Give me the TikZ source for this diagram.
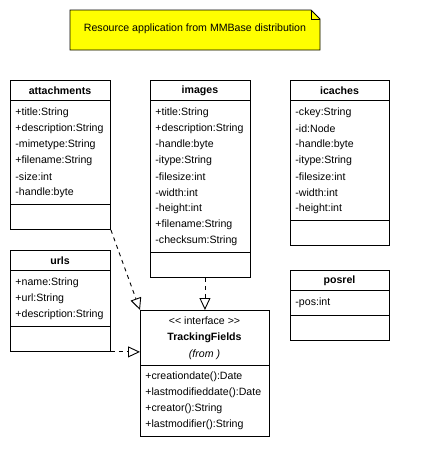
\documentclass[tikz,border=0pt]{standalone}
\usepackage{fontspec}
\setmainfont{Liberation Sans}
\usetikzlibrary{arrows.meta,calc}
\begin{document}
\begin{tikzpicture}[x=1pt,y=-1pt,
  line width=0.9pt,
  cls/.style={draw, anchor=north west, inner sep=0pt, fill=white},
  attr/.style={anchor=west, inner sep=0pt, font=\fontsize{10.6}{12}\selectfont},
  ttl/.style={inner sep=0pt, font=\fontsize{10.6}{12}\selectfont\bfseries},
  txt/.style={inner sep=0pt, font=\fontsize{10.6}{12}\selectfont},
  notebox/.style={draw, fill={rgb,255:red,255;green,255;blue,0}},
  realize/.style={dash pattern=on 4pt off 4pt, -{Triangle[open, length=12pt, width=11pt, fill=white]}}
]
\useasboundingbox (0,0) rectangle (429,469);
\fill[white] (0,0) rectangle (429,469);
% note
\draw[notebox] (70,10) -- (311,10) -- (320,19) -- (320,50) -- (70,50) -- cycle;
\draw (311,10) -- (311,19) -- (320,19);
\node[txt] (note) at (195,29) {Resource application from MMBase distribution};

% attachments
\node[cls, minimum width=100pt, minimum height=149pt] (att) at (10,80) {};
\draw (10,100) -- (110,100);
\draw (10,204) -- (110,204);
\node[ttl] (attT) at (60,91) {attachments};
\foreach \t [count=\i] in {+title:String,+description:String,-mimetype:String,+filename:String,-size:int,-handle:byte}
  \node[attr] (att\i) at (15,97+16*\i) {\t};

% images
\node[cls, minimum width=100pt, minimum height=197pt] (img) at (150,80) {};
\draw (150,100) -- (250,100);
\draw (150,252) -- (250,252);
\node[ttl] (imgT) at (200,91) {images};
\foreach \t [count=\i] in {+title:String,+description:String,-handle:byte,-itype:String,-filesize:int,-width:int,-height:int,+filename:String,-checksum:String}
  \node[attr] (img\i) at (155,97+16*\i) {\t};

% icaches
\node[cls, minimum width=99pt, minimum height=165pt] (ica) at (290,80) {};
\draw (290,100) -- (389,100);
\draw (290,220) -- (389,220);
\node[ttl] (icaT) at (339.5,91) {icaches};
\foreach \t [count=\i] in {-ckey:String,-id:Node,-handle:byte,-itype:String,-filesize:int,-width:int,-height:int}
  \node[attr] (ica\i) at (295,97+16*\i) {\t};

% urls
\node[cls, minimum width=100pt, minimum height=101pt] (urls) at (10,250) {};
\draw (10,270) -- (110,270);
\draw (10,326) -- (110,326);
\node[ttl] (urlsT) at (60,261) {urls};
\foreach \t [count=\i] in {+name:String,+url:String,+description:String}
  \node[attr] (urls\i) at (15,267+16*\i) {\t};

% posrel
\node[cls, minimum width=99pt, minimum height=70pt] (pos) at (290,270) {};
\draw (290,290) -- (389,290);
\draw (290,315) -- (389,315);
\node[ttl] (posT) at (339.5,281) {posrel};
\node[attr] (pos1) at (295,303) {-pos:int};

% TrackingFields
\node[cls, minimum width=129pt, minimum height=126pt] (tf) at (140,310) {};
\draw (140,365) -- (269,365);
\node[txt] (tfS) at (204.5,321) {<{}< interface >{}>};
\node[ttl] (tfT) at (204.5,338) {TrackingFields};
\node[txt] (tfF) at (204.5,355) {\itshape (from )};
\foreach \t [count=\i] in {+creationdate():Date,+lastmodifieddate():Date,+creator():String,+lastmodifier():String}
  \node[attr] (tfm\i) at (145,361+16*\i) {\t};

% realizations
\draw[realize] (att.south east) -- (tf.north west);
\draw[realize] (img.south -| tf.north) -- (tf.north);
\draw[realize] (urls.south east) -- (urls.south east -| tf.west);
\end{tikzpicture}
\end{document}
